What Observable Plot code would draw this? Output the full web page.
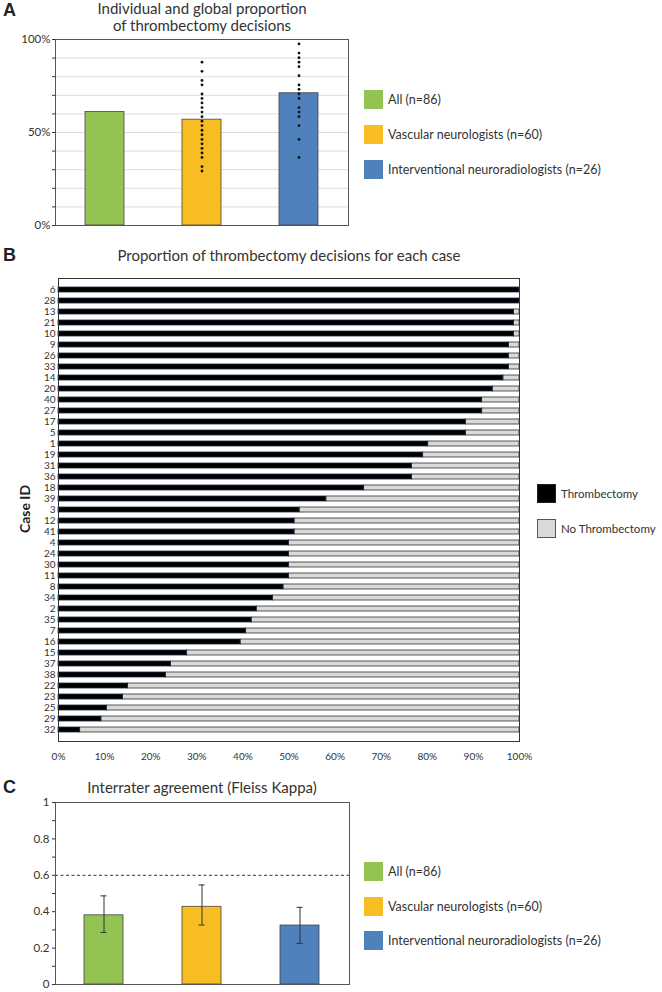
<!DOCTYPE html>
<html><head><meta charset="utf-8">
<script src="https://cdn.jsdelivr.net/npm/d3@7"></script>
<script src="https://cdn.jsdelivr.net/npm/@observablehq/plot@0.6"></script>
<style>
body{margin:0;background:#fff;}
#root{position:relative;width:662px;height:992px;font-family:Lato,"Open Sans",sans-serif;color:#333;overflow:hidden;background:#fff}
.letter{position:absolute;font-family:"Liberation Sans",Arial,sans-serif;font-weight:bold;font-size:18px;line-height:20px;color:#222}
.title{position:absolute;font-size:15px;text-align:center;line-height:17px;color:#333;white-space:nowrap}
.legend-item{position:absolute;display:flex;align-items:center;font-size:12.5px;white-space:nowrap;height:20px;color:#333}
.legend-item.small{font-size:11.5px}
.swatch{width:19px;height:19px;margin-right:5px;box-sizing:border-box}
.caseid{position:absolute;font-family:Lato,sans-serif;font-weight:bold;font-size:14px;transform:translate(-50%,-50%) rotate(-90deg);white-space:nowrap;color:#222}
.plot{position:absolute;left:0}
</style>
</head><body>
<div id="root"></div>
<script>
// ---------- Data ----------
const groups = ["All (n=86)", "Vascular neurologists (n=60)", "Interventional neuroradiologists (n=26)"];
const groupColors = ["#92c353", "#f8bd22", "#4f81bd"];

// Panel A: global proportion of thrombectomy decisions (%)
const proportionPct = [61.0, 56.9, 71.1];
// individual proportions (%)
const vascularDots = [87.8, 82.9, 78.0, 75.6, 70.7, 68.3, 65.9, 63.4, 61.0, 58.5, 56.1, 53.7, 51.2, 48.8, 46.3, 43.9, 41.5, 39.0, 36.6, 31.7, 29.3];
const interventionalDots = [97.6, 92.7, 90.2, 87.8, 85.4, 80.5, 75.6, 73.2, 70.7, 68.3, 63.4, 61.0, 58.5, 53.7, 46.3, 36.6];
const gridTicksA = [0, 10, 20, 30, 40, 50, 60, 70, 80, 90, 100];
const labelTicksA = [0, 50, 100];

// Panel B: per case
const caseIds = ["6","28","13","21","10","9","26","33","14","20","40","27","17","5","1","19","31","36","18","39","3","12","41","4","24","30","11","8","34","2","35","7","16","15","37","38","22","23","25","29","32"];
const thrombectomyPct = [100,100,98.8,98.8,98.8,97.7,97.7,97.7,96.5,94.2,91.9,91.9,88.4,88.4,80.2,79.1,76.7,76.7,66.3,58.1,52.3,51.2,51.2,50.0,50.0,50.0,50.0,48.8,46.5,43.0,41.9,40.7,39.5,27.9,24.4,23.3,15.1,14.0,10.5,9.3,4.7];
const xTicksB = [0, 10, 20, 30, 40, 50, 60, 70, 80, 90, 100];
const decisionLabels = ["Thrombectomy", "No Thrombectomy"];
const decisionColors = ["#000000", "#d9d9d9"];

// Panel C: Fleiss kappa with CI
const kappa = [0.38, 0.427, 0.324];
const kappaLow = [0.286, 0.327, 0.226];
const kappaHigh = [0.487, 0.547, 0.424];
const kappaThreshold = [0.6];
const kappaTicks = [0, 0.1, 0.2, 0.3, 0.4, 0.5, 0.6, 0.7, 0.8, 0.9, 1];
const kappaLabelTicks = [0, 0.2, 0.4, 0.6, 0.8, 1];

// ---------- Build ----------
const root = document.getElementById("root");
function addDiv(cls, html, style) {
  const d = document.createElement("div");
  d.className = cls; d.innerHTML = html;
  Object.assign(d.style, style);
  root.appendChild(d);
  return d;
}
function addLegend(labels, colors, left, centers, strokes, extraClass) {
  labels.forEach((t, i) => {
    const it = addDiv("legend-item" + (extraClass ? " " + extraClass : ""), "", {left: left + "px", top: (centers[i] - 10) + "px"});
    const sw = document.createElement("div");
    sw.className = "swatch";
    sw.style.background = colors[i];
    if (strokes && strokes[i]) sw.style.border = "1px solid " + strokes[i];
    it.appendChild(sw);
    const tx = document.createElement("span");
    tx.textContent = t;
    it.appendChild(tx);
  });
}
const fontStyle = {fontFamily: "Lato, 'Open Sans', sans-serif", fontSize: "11.5px", color: "#333", background: "transparent"};
const color = {domain: groups, range: groupColors};

// Panel A
const dataA = groups.map((g, i) => ({group: g, value: proportionPct[i]}));
const dotsA = [
  ...vascularDots.map(v => ({group: groups[1], value: v})),
  ...interventionalDots.map(v => ({group: groups[2], value: v}))
];
const plotA = Plot.plot({
  width: 662, height: 210, marginTop: 9, marginBottom: 15, marginLeft: 55, marginRight: 314,
  style: fontStyle,
  x: {domain: groups, paddingInner: 0.6, paddingOuter: 0.3, axis: null},
  y: {domain: [0, 100]},
  color,
  marks: [
    Plot.gridY(gridTicksA, {stroke: "#dcdcdc", strokeOpacity: 1}),
    Plot.axisY(gridTicksA, {tickSize: 3, tickPadding: 2, label: null,
      tickFormat: d => labelTicksA.includes(d) ? d + "%" : ""}),
    Plot.barY(dataA, {x: "group", y: "value", fill: "group", stroke: "#444", strokeWidth: 0.8}),
    Plot.dot(dotsA, {x: "group", y: "value", r: 1.4, fill: "#111", stroke: null}),
    Plot.frame({stroke: "#555"})
  ]
});
plotA.classList.add("plot"); plotA.style.top = "30px";
root.appendChild(plotA);
addDiv("letter", "A", {left: "3px", top: "0px"});
addDiv("title", "Individual and global proportion<br>of thrombectomy decisions", {left: "52px", width: "300px", top: "0px"});
addLegend(groups, groupColors, 364, [99, 134, 169]);

// Panel B
const dataB = caseIds.map((id, i) => ({id, thr: thrombectomyPct[i], total: 100}));
const plotB = Plot.plot({
  width: 662, height: 500, marginTop: 13, marginBottom: 24, marginLeft: 58, marginRight: 143,
  style: fontStyle,
  x: {domain: [0, 100]},
  y: {domain: caseIds, paddingInner: 0.58, paddingOuter: 0.21},
  marks: [
    Plot.barX(dataB, {y: "id", x1: "thr", x2: "total", fill: decisionColors[1], stroke: "#333", strokeWidth: 0.8}),
    Plot.barX(dataB, {y: "id", x1: 0, x2: "thr", fill: decisionColors[0], stroke: "#1d2b48", strokeWidth: 0.8}),
    Plot.axisX(xTicksB, {tickSize: 0, tickPadding: 11, label: null, fontSize: 10, tickFormat: d => d + "%"}),
    Plot.axisY({tickSize: 0, tickPadding: 3, label: null, fontSize: 10}),
    Plot.frame({stroke: "#333"})
  ]
});
plotB.classList.add("plot"); plotB.style.top = "265px";
root.appendChild(plotB);
addDiv("letter", "B", {left: "3px", top: "245px"});
addDiv("title", "Proportion of thrombectomy decisions for each case", {left: "89px", width: "400px", top: "247px"});
addDiv("caseid", "Case ID", {left: "24px", top: "509px"});
addLegend(decisionLabels, decisionColors, 537, [493, 528], ["#222", "#555"], "small");

// Panel C
const dataC = groups.map((g, i) => ({group: g, k: kappa[i], lo: kappaLow[i], hi: kappaHigh[i]}));
const plotC = Plot.plot({
  width: 662, height: 202, marginTop: 13, marginBottom: 7, marginLeft: 55, marginRight: 313,
  style: fontStyle,
  x: {domain: groups, paddingInner: 0.6, paddingOuter: 0.3, axis: null},
  y: {domain: [0, 1]},
  color,
  marks: [
    Plot.axisY(kappaTicks, {tickSize: 3, tickPadding: 3, label: null, fontSize: 11.5,
      tickFormat: d => kappaLabelTicks.includes(d) ? String(d) : ""}),
    Plot.barY(dataC, {x: "group", y: "k", fill: "group", stroke: "#444", strokeWidth: 0.8}),
    Plot.ruleX(dataC, {x: "group", y1: "lo", y2: "hi", stroke: "#333"}),
    Plot.tickY(dataC, {x: "group", y: "lo", stroke: "#333", insetLeft: 16.5, insetRight: 16.5}),
    Plot.tickY(dataC, {x: "group", y: "hi", stroke: "#333", insetLeft: 16.5, insetRight: 16.5}),
    Plot.ruleY(kappaThreshold, {stroke: "#333", strokeDasharray: "3,2.5"}),
    Plot.frame({stroke: "#555"})
  ]
});
plotC.classList.add("plot"); plotC.style.top = "789px";
root.appendChild(plotC);
addDiv("letter", "C", {left: "3px", top: "777px"});
addDiv("title", "Interrater agreement (Fleiss Kappa)", {left: "52px", width: "300px", top: "779px"});
addLegend(groups, groupColors, 364, [871, 906, 940]);
</script>
</body></html>
